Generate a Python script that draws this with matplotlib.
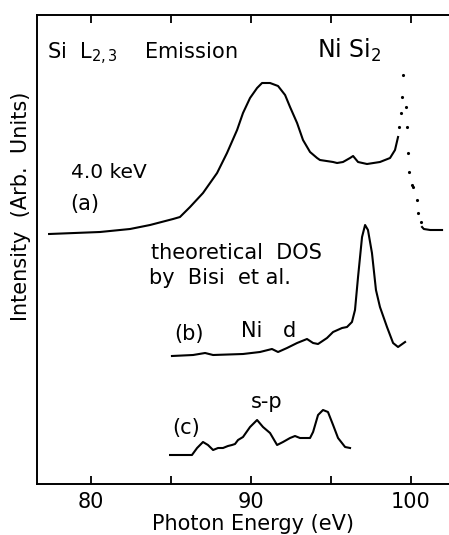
import matplotlib.pyplot as plt
import numpy as np

# curve (a): measured Si L2,3 emission (dense part drawn as a line)
a_x = [77.38, 80.56, 82.44, 83.69, 85.13, 85.56, 86.19, 87.0, 87.88, 88.5,
       89.13, 89.5, 89.94, 90.38, 90.69, 91.19, 91.69, 92.13, 92.44, 92.88,
       93.25, 93.69, 94.13, 94.31, 95.13, 95.38, 95.75, 96.19, 96.38, 96.69,
       97.25, 98.06, 98.69, 99.0, 99.19]
a_y = [250, 252, 255, 259, 265, 267, 277, 291, 311, 331,
       354, 371, 386, 396, 401, 401, 398, 389, 377, 361,
       344, 332, 326, 324, 322, 321, 322, 326, 328, 322,
       320, 322, 326, 334, 347]
# sparse dotted part around the sharp peak
a_dot_x = [99.25, 99.38, 99.44, 99.5, 99.69, 99.75, 99.81, 99.88,
           100.06, 100.1, 100.38, 100.44, 100.6]
a_dot_y = [357, 371, 387, 409, 377, 357, 331, 312,
           299, 297, 284, 271, 262]
a_tail_x = [100.69, 100.8, 101.2, 101.94]
a_tail_y = [257, 255, 254, 254]

# curve (b): theoretical DOS, Ni d
b_x = [85.06, 86.38, 87.13, 87.63, 89.5, 90.56, 91.31, 91.69, 92.25, 92.88,
       93.5, 93.88, 94.19, 94.75, 95.13, 95.69, 96.0, 96.31, 96.5, 96.69,
       96.94, 97.13, 97.31, 97.56, 97.81, 98.06, 98.5, 98.88, 99.19, 99.63]
b_y = [128, 129, 131, 129, 130, 132, 135, 132, 136, 141,
       145, 141, 140, 146, 152, 156, 157, 162, 174, 207,
       247, 259, 254, 231, 194, 177, 157, 141, 137, 142]

# curve (c): theoretical DOS, s-p
c_x = [84.94, 86.31, 86.63, 87.0, 87.31, 87.63, 87.94, 88.25, 88.56, 88.81,
       89.0, 89.19, 89.5, 89.94, 90.38, 90.75, 91.19, 91.63, 92.0, 92.44,
       92.75, 93.06, 93.69, 93.88, 94.19, 94.5, 94.81, 95.13, 95.44, 95.88, 96.19]
c_y = [29, 29, 36, 42, 39, 34, 36, 36, 38, 39,
       40, 44, 47, 57, 64, 57, 51, 39, 42, 46,
       48, 46, 46, 52, 69, 74, 72, 59, 46, 37, 36]

fig = plt.figure(figsize=(4.49, 5.35), dpi=100)
ax = fig.add_axes([37 / 449, 1 - 484 / 535, 1 - 37 / 449, 469 / 535])

ax.plot(a_x, a_y, color='black', lw=1.5)
ax.plot(a_dot_x, a_dot_y, 'k.', ms=2.5)
ax.plot(a_tail_x, a_tail_y, color='black', lw=1.5)
ax.plot(b_x, b_y, color='black', lw=1.5)
ax.plot(c_x, c_y, color='black', lw=1.5)

ax.set_xlim(76.625, 102.375)
ax.set_ylim(0, 469)
ax.spines['right'].set_visible(False)
for s in ['left', 'top', 'bottom']:
    ax.spines[s].set_linewidth(1.4)

ax.set_xticks([80, 85, 90, 95, 100])
ax.set_xticklabels(['80', '', '90', '', '100'])
ax.tick_params(axis='x', direction='in', top=True, length=6, width=1.3,
               labelsize=15, pad=6)
ax.set_yticks([])

def px(x, y, s, **kw):
    fig.text(x / 449, 1 - y / 535, s, va='center', **kw)

px(253, 524, 'Photon Energy (eV)', fontsize=15, ha='center')
px(21, 206, 'Intensity  (Arb.  Units)', rotation=90, ha='center', fontsize=15)

px(47, 54, r'Si  L$_{2,3}$    Emission', fontsize=15)
px(317, 50, r'Ni Si$_2$', fontsize=17)
px(71, 172, '4.0 keV', fontsize=14.5)
px(70, 204, '(a)', fontsize=15)
px(151, 253, 'theoretical  DOS', fontsize=15)
px(149, 278, 'by  Bisi  et al.', fontsize=15)
px(174, 334, '(b)', fontsize=15)
px(241, 331, 'Ni', fontsize=15)
px(283, 331, 'd', fontsize=15)
px(251, 402, 's-p', fontsize=15)
px(172, 428, '(c)', fontsize=15)

fig.savefig('out.png', dpi=100)
